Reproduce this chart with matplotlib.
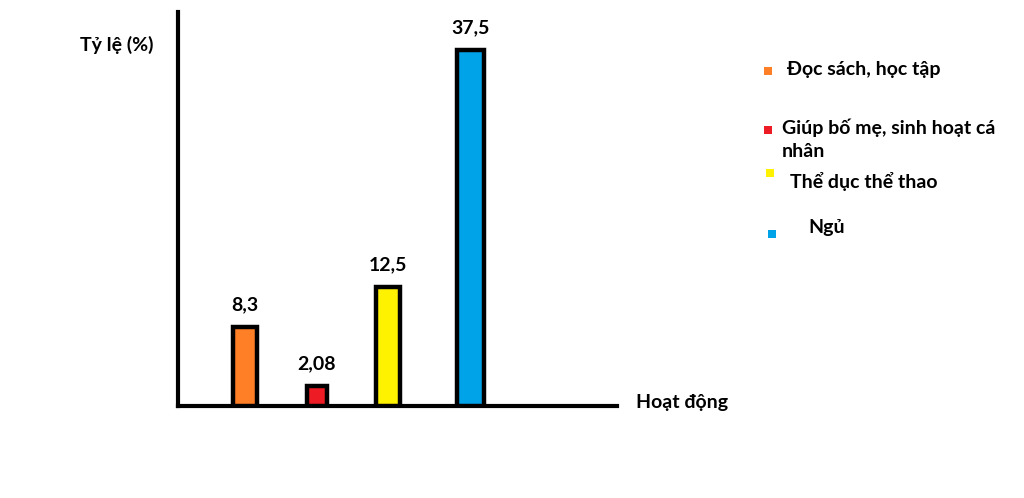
import matplotlib
matplotlib.use("Agg")
import matplotlib.pyplot as plt
from matplotlib.patches import Rectangle

categories = ["Đọc sách, học tập", "Giúp bố mẹ, sinh hoạt cá\nnhân", "Thể dục thể thao", "Ngủ"]
values = [8.3, 2.08, 12.5, 37.5]
value_labels = ["8,3", "2,08", "12,5", "37,5"]
colors = ["#FF7F27", "#ED1C24", "#FFF200", "#00A2E8"]

# layout
positions = [0, 1, 2, 3.15]
widths = [0.33, 0.28, 0.33, 0.38]

W, H = 1024, 498
fig = plt.figure(figsize=(W / 100, H / 100), dpi=100)
FONT = ["Lato", "DejaVu Sans"]
FS = 14

x0, x1, yb, yt = 178, 617, 406, 12
ax = fig.add_axes([x0 / W, (H - yb) / H, (x1 - x0) / W, (yb - yt) / H])
ax.set_xlim(-0.937, 5.20)
ax.set_ylim(0, (yb - yt) / 9.49)

ax.bar(positions, values, width=widths, color=colors, edgecolor="black",
       linewidth=3.2, zorder=3)
for p, v, t in zip(positions, values, value_labels):
    ax.annotate(t, (p, v), xytext=(0, 10), textcoords="offset points",
                ha="center", va="bottom", fontsize=14, fontweight="bold",
                family=FONT)

for s in ["top", "right"]:
    ax.spines[s].set_visible(False)
for s in ["left", "bottom"]:
    ax.spines[s].set_linewidth(3)
    ax.spines[s].set_color("black")
ax.set_xticks([])
ax.set_yticks([])

fig.text(80 / W, 1 - 45 / H, "Tỷ lệ (%)", fontsize=FS, fontweight="bold",
         family=FONT, ha="left", va="center")
fig.text(636 / W, 1 - 402 / H, "Hoạt động", fontsize=FS, fontweight="bold",
         family=FONT, ha="left", va="center")

# manual legend
leg_marker = [(768, 71), (768, 130), (770, 173), (772, 234)]
leg_text = [(787, 70), (782, 130), (790, 181), (808, 228)]
for (mx, my), (tx, ty), c, lab in zip(leg_marker, leg_text, colors, categories):
    fig.patches.append(Rectangle((mx / W - 4 / W, 1 - my / H - 4 / H), 8 / W, 8 / H,
                                 transform=fig.transFigure, facecolor=c,
                                 edgecolor="none", figure=fig))
    if "\n" in lab:
        fig.text(tx / W, 1 - (ty - 12) / H, lab, fontsize=FS, fontweight="bold",
                 family=FONT, ha="left", va="top", linespacing=1.45)
    else:
        fig.text(tx / W, 1 - ty / H, lab, fontsize=FS, fontweight="bold",
                 family=FONT, ha="left", va="center")

fig.savefig("out.png", dpi=100)
